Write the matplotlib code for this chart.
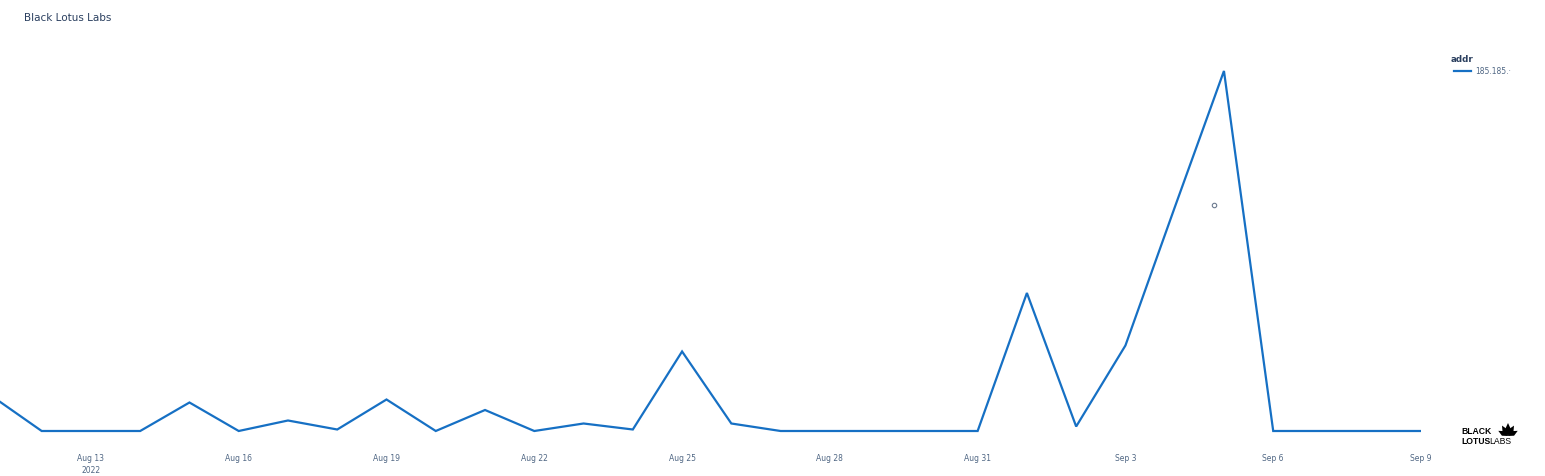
import numpy as np
import pandas as pd
import matplotlib
matplotlib.use("Agg")
import matplotlib.pyplot as plt
from matplotlib.patches import Polygon

# daily counts for one address
dates = pd.date_range("2022-08-11", "2022-09-09", freq="D")
counts = [23, 0, 0, 0, 19, 0, 7, 1, 21, 0, 14, 0, 5, 1, 53, 5,
          0, 0, 0, 0, 0, 92, 3, 57, 149, 240, 0, 0, 0, 0]
tick_dates = pd.date_range("2022-08-13", "2022-09-09", freq="3D")
tick_labels = ["Aug 13\n2022", "Aug 16", "Aug 19", "Aug 22", "Aug 25",
               "Aug 28", "Aug 31", "Sep 3", "Sep 6", "Sep 9"]
series_name = "185.185.\u00b7"
stray_point = (pd.Timestamp("2022-09-04 19:00"), 150.7)

W, H = 1545, 477
fig = plt.figure(figsize=(W / 100, H / 100), dpi=100)
# plot area: x 0..1421 px, y 40..450 px
ax = fig.add_axes([0, (H - 450) / H, 1421 / W, (450 - 40) / H])

line_col = "#1670c4"
ax.plot(dates, counts, color=line_col, lw=1.6, solid_joinstyle="miter")
ax.plot([stray_point[0]], [stray_point[1]], marker="o", ms=3.2, mfc="white",
        mec="#6b7a8f", mew=0.8, ls="none")

ax.set_xlim(pd.Timestamp("2022-08-11") + pd.Timedelta(hours=3.7), pd.Timestamp("2022-09-09"))
ax.set_ylim(-12, 261.3)
ax.set_xticks(tick_dates)
ax.set_xticklabels(tick_labels, fontsize=5.5, color="#506784", linespacing=1.45)
ax.tick_params(axis="x", length=0, pad=3)
ax.set_yticks([])
for s in ax.spines.values():
    s.set_visible(False)

txt = "#2a3f5f"
fig.text(24 / W, 1 - 18 / H, "Black Lotus Labs", fontsize=7.5, color=txt, va="center")

# legend
fig.text(1451 / W, 1 - 60 / H, "addr", fontsize=6.3, color=txt, va="center", fontweight="bold")
fig.add_artist(plt.Line2D([1454 / W, 1471 / W], [1 - 72 / H, 1 - 72 / H], color=line_col, lw=1.6))
fig.text(1475 / W, 1 - 72 / H, series_name, fontsize=5.5, color="#506784", va="center")

# logo
logo_font = dict(family="Liberation Sans", fontsize=6.2, color="black", va="center")
fig.text(1461 / W, 1 - 432 / H, "BLACK", fontweight="bold", **logo_font)
fig.text(1461 / W, 1 - 442 / H, "LOTUS", fontweight="bold", **logo_font)
fig.text(1489.5 / W, 1 - 442 / H, "LABS", **logo_font)
bx, by = 1508, 437
for ang, h, w in [(0, 13, 3.0), (30, 12, 2.8), (-30, 12, 2.8), (62, 11, 2.6), (-62, 11, 2.6)]:
    t = np.deg2rad(ang)
    ux, uy = np.sin(t), np.cos(t)
    px, py = np.cos(t), -np.sin(t)
    pts = [(bx, by), (bx + ux * h * 0.5 + px * w, by - uy * h * 0.5 - py * w),
           (bx + ux * h, by - uy * h), (bx + ux * h * 0.5 - px * w, by - uy * h * 0.5 + py * w)]
    fig.add_artist(Polygon([(x / W, 1 - y / H) for x, y in pts], closed=True,
                           transform=fig.transFigure, color="black", lw=0))

fig.savefig("out.png", dpi=100)
